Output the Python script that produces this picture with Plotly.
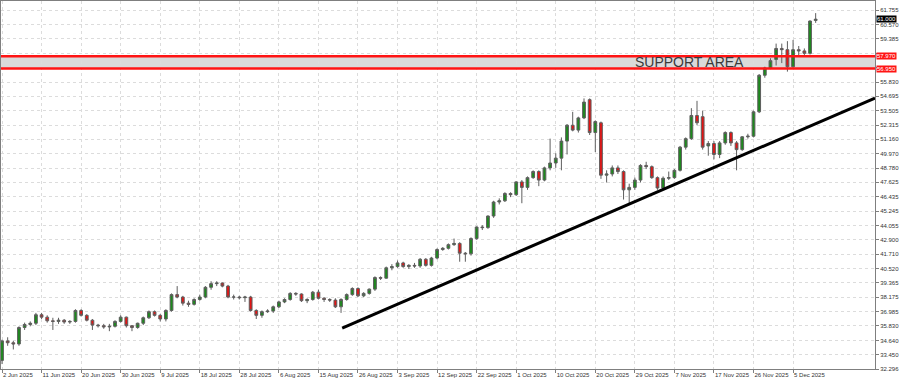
import plotly.graph_objects as go

# ---------------- data ----------------
date_labels = ["2 Jun 2025", "11 Jun 2025", "20 Jun 2025", "30 Jun 2025", "9 Jul 2025",
               "18 Jul 2025", "28 Jul 2025", "6 Aug 2025", "15 Aug 2025", "26 Aug 2025",
               "3 Sep 2025", "12 Sep 2025", "22 Sep 2025", "1 Oct 2025", "10 Oct 2025",
               "20 Oct 2025", "29 Oct 2025", "7 Nov 2025", "17 Nov 2025", "26 Nov 2025",
               "5 Dec 2025"]
label_step = 7  # one date label every 7 bars

opens = [33.00, 34.60, 34.45, 34.35, 35.70, 35.95, 36.05, 36.75, 36.55, 36.25,
         36.20, 36.30, 36.15, 36.20, 37.10, 36.70, 36.30, 35.90, 35.85, 35.75,
         35.80, 36.20, 36.55, 35.85, 35.70, 36.05, 36.50, 37.00, 36.70, 36.40,
         37.10, 38.40, 38.20, 37.70, 37.60, 38.00, 38.20, 39.00, 39.30, 39.35,
         39.10, 38.20, 38.20, 38.15, 38.20, 37.10, 36.70, 37.00, 37.05, 37.40,
         37.80, 38.00, 38.50, 38.45, 37.90, 38.00, 38.60, 38.10, 38.00, 37.95,
         37.40, 38.00, 38.40, 38.90, 38.30, 38.50, 38.85, 39.80, 39.75, 40.60,
         40.70, 41.00, 40.70, 40.80, 40.75, 41.30, 40.80, 41.40, 42.10, 42.20,
         42.50, 42.60, 41.80, 41.75, 43.00, 43.95, 43.90, 44.85, 46.00, 46.10,
         46.70, 46.60, 47.65, 47.20, 48.00, 48.50, 47.80, 48.80, 49.20, 49.60,
         51.00, 52.30, 51.90, 52.90, 54.40, 51.70, 52.50, 48.20, 48.30, 48.80,
         48.50, 47.00, 47.20, 47.80, 49.00, 48.90, 48.00, 47.15, 47.95, 48.00,
         48.60, 50.50, 51.20, 53.10, 53.00, 50.60, 50.80, 49.90, 50.85, 51.70,
         50.85, 50.30, 51.35, 51.40, 53.40, 56.40, 57.00, 57.70, 58.60, 58.50,
         57.10, 58.50, 58.40, 58.20, 60.90]
highs = [34.70, 34.90, 34.60, 35.80, 36.10, 36.20, 36.90, 36.90, 36.70, 36.50,
         36.50, 36.40, 36.30, 37.20, 37.20, 36.80, 36.40, 36.00, 36.00, 36.00,
         36.30, 36.70, 36.60, 35.90, 36.10, 36.60, 37.10, 37.10, 36.80, 37.20,
         38.50, 39.10, 38.30, 37.90, 38.10, 38.40, 39.10, 39.50, 39.50, 39.40,
         39.20, 38.40, 38.30, 38.30, 38.30, 37.20, 37.10, 37.20, 37.50, 37.90,
         38.10, 38.60, 38.60, 38.50, 38.10, 38.70, 38.80, 38.20, 38.10, 38.10,
         38.10, 38.50, 39.00, 39.00, 38.60, 38.90, 39.90, 39.90, 40.70, 40.90,
         41.20, 41.10, 40.90, 41.00, 41.40, 41.40, 41.50, 42.20, 42.30, 42.60,
         43.00, 42.70, 41.90, 43.10, 44.00, 44.10, 44.90, 46.10, 46.30, 46.80,
         46.80, 47.70, 47.80, 48.10, 48.60, 48.60, 48.90, 51.20, 50.00, 51.30,
         52.40, 53.40, 53.00, 54.50, 54.50, 52.70, 52.60, 48.60, 49.00, 49.00,
         48.60, 47.50, 48.00, 49.10, 49.30, 49.00, 48.10, 48.10, 48.50, 48.70,
         50.60, 51.30, 53.70, 54.30, 53.50, 51.00, 51.00, 51.00, 51.80, 51.80,
         51.00, 51.40, 51.60, 53.50, 56.50, 57.10, 57.80, 59.00, 59.00, 59.20,
         59.30, 58.80, 58.60, 60.90, 61.50]
lows = [32.70, 34.20, 33.90, 34.20, 35.50, 35.80, 35.90, 36.40, 36.10, 35.50,
        36.00, 36.00, 36.00, 36.10, 36.60, 36.20, 35.50, 35.70, 35.60, 35.40,
        35.70, 36.10, 35.70, 35.40, 35.60, 35.90, 36.40, 36.60, 36.20, 36.20,
        37.00, 38.10, 37.50, 37.40, 37.50, 37.90, 38.10, 38.80, 39.10, 39.00,
        38.10, 38.00, 38.00, 37.80, 37.00, 36.40, 36.50, 36.90, 36.90, 37.30,
        37.70, 37.90, 38.30, 37.80, 37.70, 37.90, 38.00, 37.80, 37.80, 37.30,
        36.90, 37.90, 38.30, 38.20, 38.20, 38.40, 38.70, 39.60, 39.70, 40.40,
        40.60, 40.60, 40.50, 40.60, 40.60, 40.70, 40.70, 41.30, 42.00, 42.10,
        42.40, 41.10, 41.10, 41.60, 42.90, 43.70, 43.80, 44.70, 45.80, 46.00,
        46.40, 46.50, 45.90, 47.00, 47.90, 47.30, 47.70, 48.60, 48.80, 48.60,
        49.90, 51.80, 51.70, 52.80, 51.50, 50.10, 47.90, 47.60, 48.10, 48.30,
        46.20, 45.90, 47.00, 47.60, 48.70, 47.90, 47.00, 47.00, 47.80, 47.90,
        48.50, 50.30, 51.10, 52.30, 50.30, 49.80, 49.50, 49.60, 50.70, 50.60,
        48.60, 50.20, 51.20, 51.30, 53.30, 56.20, 56.90, 57.20, 57.40, 56.70,
        57.00, 58.00, 57.90, 58.10, 60.70]
closes = [34.60, 34.45, 34.35, 35.70, 35.95, 36.05, 36.75, 36.55, 36.25, 36.20,
          36.30, 36.15, 36.20, 37.10, 36.70, 36.30, 35.90, 35.85, 35.75, 35.80,
          36.20, 36.55, 35.85, 35.70, 36.05, 36.50, 37.00, 36.70, 36.40, 37.10,
          38.40, 38.20, 37.70, 37.60, 38.00, 38.20, 39.00, 39.30, 39.35, 39.10,
          38.20, 38.20, 38.15, 38.20, 37.10, 36.70, 37.00, 37.05, 37.40, 37.80,
          38.00, 38.50, 38.45, 37.90, 38.00, 38.60, 38.10, 38.00, 37.95, 37.40,
          38.00, 38.40, 38.90, 38.30, 38.50, 38.85, 39.80, 39.75, 40.60, 40.70,
          41.00, 40.70, 40.80, 40.75, 41.30, 40.80, 41.40, 42.10, 42.20, 42.50,
          42.60, 41.80, 41.75, 43.00, 43.95, 43.90, 44.85, 46.00, 46.10, 46.70,
          46.60, 47.65, 47.20, 48.00, 48.50, 47.80, 48.80, 49.20, 49.60, 51.00,
          52.30, 51.90, 52.90, 54.20, 51.70, 52.60, 48.20, 48.30, 48.80, 48.50,
          47.00, 47.20, 47.80, 49.00, 48.90, 48.00, 47.15, 47.95, 48.00, 48.60,
          50.50, 51.20, 53.10, 52.50, 50.50, 50.80, 49.90, 50.85, 51.70, 50.85,
          50.30, 51.35, 51.40, 53.40, 56.40, 57.00, 57.60, 58.60, 58.50, 57.10,
          58.50, 58.40, 58.20, 60.85, 61.00]

y_ticks = [61.755, 60.570, 59.385, 58.200, 57.015, 55.830, 54.695, 53.505, 52.315,
           51.160, 49.970, 48.780, 47.625, 46.435, 45.245, 44.055, 42.900, 41.710,
           40.520, 39.365, 38.175, 36.985, 35.830, 34.640, 33.450, 32.296]
hidden_ticks = [58.200, 57.015]   # covered by the red price boxes in the reference
y_range = [32.296, 62.495]
x_range = [-0.18, 154.5]

support_levels = [57.97, 56.95]          # top / bottom of support area
support_text = "SUPPORT AREA"
support_text_x = 121.6
trend_x = [60.2, 154.5]
trend_y = [35.66, 54.53]
last_price = 61.0

# ---------------- figure ----------------
n = len(closes)
xs = list(range(n))

fig = go.Figure()
fig.add_trace(go.Candlestick(
    x=xs, open=opens, high=highs, low=lows, close=closes,
    increasing=dict(line=dict(color="#5e5e5e", width=1), fillcolor="#1c8a1c"),
    decreasing=dict(line=dict(color="#5e5e5e", width=1), fillcolor="#e31414"),
    whiskerwidth=0, hoverinfo="skip", showlegend=False))

# support area band + red borders
fig.add_shape(type="rect", xref="paper", x0=0, x1=1, yref="y",
              y0=support_levels[1], y1=support_levels[0],
              fillcolor="#dadada", line=dict(width=0), layer="below")
for lvl in support_levels:
    fig.add_shape(type="line", xref="paper", x0=0, x1=1, yref="y", y0=lvl, y1=lvl,
                  line=dict(color="#ff1414", width=2.5), layer="above")

# trendline
fig.add_shape(type="line", xref="x", yref="y", x0=trend_x[0], x1=trend_x[1],
              y0=trend_y[0], y1=trend_y[1], line=dict(color="#000000", width=3),
              layer="above")

fig.add_annotation(x=support_text_x, y=sum(support_levels) / 2, xref="x", yref="y",
                   text=support_text, showarrow=False,
                   font=dict(family="Liberation Sans, Arial", size=14, color="#3a3a3a"))

# price boxes on the right scale
for lvl in support_levels:
    fig.add_annotation(x=1, y=lvl, xref="paper", yref="y", xanchor="left", yanchor="middle",
                       xshift=1, text=f"{lvl:.3f}", showarrow=False, bgcolor="#ff1414",
                       borderpad=0, font=dict(family="Liberation Sans, Arial", size=6, color="#ffffff"))
fig.add_annotation(x=1, y=last_price, xref="paper", yref="y", xanchor="left", yanchor="middle",
                   xshift=1, text=f"{last_price:.3f}", showarrow=False, bgcolor="#000000",
                   borderpad=0, font=dict(family="Liberation Sans, Arial", size=6, color="#ffffff"))

fig.update_layout(
    width=900, height=379,
    margin=dict(l=1, r=25, t=1, b=10),
    paper_bgcolor="#ffffff", plot_bgcolor="#ffffff",
    showlegend=False,
    xaxis=dict(range=x_range, tickvals=[i * label_step for i in range(len(date_labels))],
               ticktext=date_labels, ticklabelposition="outside right", tickangle=0,
               tickfont=dict(family="Liberation Sans, Arial", size=6, color="#333333"),
               ticks="outside", ticklen=3, tickcolor="#7f7f7f",
               showgrid=True, gridcolor="#dcdcdc", griddash="dot", gridwidth=1,
               showline=True, linecolor="#7f7f7f", linewidth=1, mirror=True,
               zeroline=False, rangeslider=dict(visible=False), fixedrange=True),
    yaxis=dict(side="right", range=y_range, tickvals=y_ticks,
               ticktext=["" if v in hidden_ticks else f"{v:.3f}" for v in y_ticks],
               tickfont=dict(family="Liberation Sans, Arial", size=6, color="#333333"),
               ticks="outside", ticklen=3, tickcolor="#7f7f7f",
               showgrid=True, gridcolor="#dcdcdc", griddash="dot", gridwidth=1,
               showline=True, linecolor="#7f7f7f", linewidth=1, mirror=True,
               zeroline=False, fixedrange=True),
)

fig.write_html("out.html")
